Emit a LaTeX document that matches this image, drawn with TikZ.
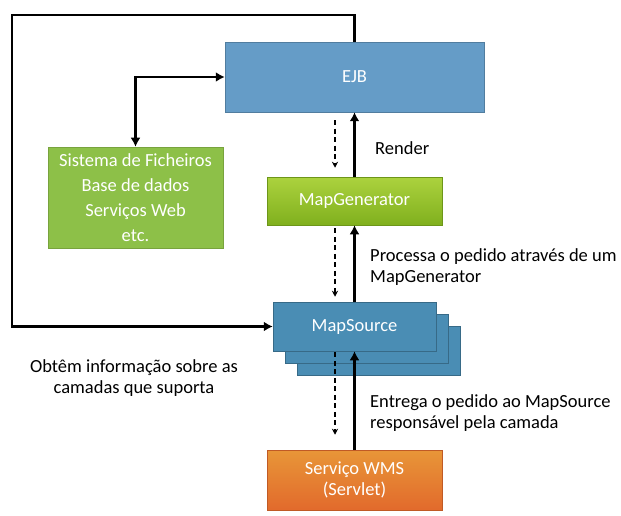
\documentclass[tikz,border=0pt]{standalone}
\usepackage{fontspec}
\setmainfont{Carlito}
\usetikzlibrary{arrows.meta, positioning, calc, backgrounds}
\definecolor{ejbBlue}{RGB}{101,156,199}
\definecolor{sourceBlue}{RGB}{74,141,180}
\definecolor{storeGreen}{RGB}{141,192,72}
\definecolor{genTop}{RGB}{172,210,62}
\definecolor{genBottom}{RGB}{128,176,30}
\definecolor{wmsTop}{RGB}{232,150,56}
\definecolor{wmsOrange}{RGB}{226,106,44}

\begin{document}
\begin{tikzpicture}[
    % pixel-like units, y grows downwards
    x=1pt, y=-1pt,
    font=\fontsize{18.5}{20.5}\selectfont,
    % --- Box Styles ---
    box/.style={
        rectangle,
        inner sep=0pt,
        align=center,
        text=white,
        line width=0.5pt
    },
    ejbBox/.style={box, minimum width=259pt, minimum height=70pt, fill=ejbBlue, draw=ejbBlue!80!black},
    storeBox/.style={box, minimum width=175pt, minimum height=101pt, fill=storeGreen, draw=storeGreen!85!black,
        font=\fontsize{18.5}{25}\selectfont},
    genBox/.style={box, minimum width=175pt, minimum height=48pt, top color=genTop, bottom color=genBottom, draw=genBottom!85!black},
    sourceBox/.style={box, minimum width=163pt, minimum height=49pt, fill=sourceBlue, draw=sourceBlue!75!black},
    wmsBox/.style={box, minimum width=175pt, minimum height=60pt, top color=wmsTop, middle color=wmsOrange, bottom color=wmsOrange, draw=wmsOrange!85!black},
    % --- Connector Styles ---
    solidArrow/.style={-{Latex[length=9pt, width=10pt]}, line width=2.4pt},
    dashArrow/.style={-{Stealth[length=6pt, width=6pt]}, line width=1.3pt, dash pattern=on 5pt off 3.5pt},
    label/.style={anchor=west, align=left, inner sep=0pt}
]
    \useasboundingbox (0,0) rectangle (621,516);

    % --- Main Column ---
    \node (ejb) [ejbBox] at (354.5,77) {EJB};
    \node (gen) [genBox] at (354.5,201) {MapGenerator};
    \node (source) [sourceBox] at (354.5,326.5) {MapSource};
    \node (wms) [wmsBox] at (354.5,480) {Serviço WMS\\(Servlet)};

    % --- Storage (left) ---
    \node (store) [storeBox] at (135.5,197.5) {Sistema de Ficheiros\\Base de dados\\Serviços Web\\etc.};

    % --- Stacked MapSource copies ---
    \begin{scope}[on background layer]
        \node (srcBack2) [sourceBox] at ($(source)+(24,24)$) {};
        \node (srcBack1) [sourceBox] at ($(source)+(12,12)$) {};
    \end{scope}

    % --- Arrows ---
    \coordinate (loopCorner) at (12,15);
    \draw [solidArrow] (ejb.north) |- (loopCorner) |- (source.west);
    \draw [solidArrow, {Latex[length=9pt, width=10pt]}-{Latex[length=9pt, width=10pt]}] (store.north) |- (ejb.west);

    \draw [dashArrow, shorten <=8pt, shorten >=9pt] ([xshift=-19.5pt]ejb.south) -- ([xshift=-19.5pt]gen.north);
    \draw [solidArrow] (gen.north) -- (ejb.south);

    \draw [dashArrow, shorten <=3pt, shorten >=5pt] ([xshift=-19.5pt]gen.south) -- ([xshift=-19.5pt]source.north);
    \draw [solidArrow] (source.north) -- (gen.south);

    \draw [dashArrow, shorten <=1pt, shorten >=15pt] ([xshift=-19.5pt]source.south) -- ([xshift=-19.5pt]wms.north);
    \draw [solidArrow] (wms.north) -- (source.south);

    % --- Labels ---
    \node (renderLbl) [label] at (375,148) {Render};
    \node (processLbl) [label] at (370,267) {Processa o pedido através de um\\MapGenerator};
    \node (deliverLbl) [label] at (370,413) {Entrega o pedido ao MapSource\\responsável pela camada};
    \node (infoLbl) [align=center, inner sep=0pt] at (134,378) {Obtêm informação sobre as\\camadas que suporta};

\end{tikzpicture}
\end{document}
